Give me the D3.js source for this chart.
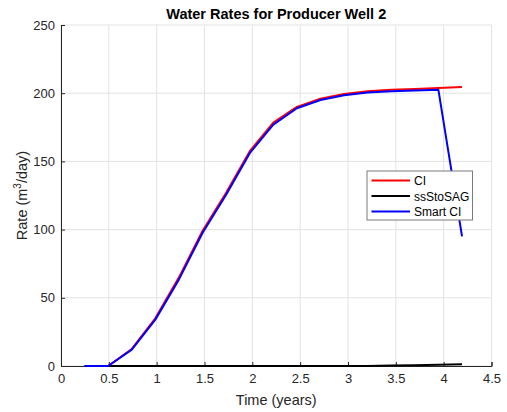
<!DOCTYPE html>
<html>
<head>
<meta charset="utf-8">
<script src="https://cdn.jsdelivr.net/npm/d3@7"></script>
<style>
body { margin: 0; background: #fff; }
text { font-family: "Liberation Sans", Arial, sans-serif; }
</style>
</head>
<body>
<div id="chart"></div>
<script>
// time steps (years), 90-day reports
var times = [0.247, 0.493, 0.740, 0.986, 1.233, 1.479, 1.726, 1.973, 2.219,
             2.466, 2.712, 2.959, 3.205, 3.452, 3.699, 3.945, 4.192];
var ci       = [0, 0, 12.5, 35, 65, 99, 127, 157.5, 178.5, 190, 196, 199.5, 201.5, 202.5, 203, 203.8, 204.5];
var ssStoSAG = [0, 0, 0, 0, 0, 0, 0, 0, 0, 0, 0, 0, 0, 0.3, 0.6, 1.0, 1.2];
var smartCI  = [0, 0, 12, 34, 63.5, 97.5, 125.5, 156, 177, 189, 195, 198.5, 200.5, 201.5, 202, 202.5, 95];
var xTicks = [0, 0.5, 1, 1.5, 2, 2.5, 3, 3.5, 4, 4.5];
var yTicks = [0, 50, 100, 150, 200, 250];
var seriesNames = ["CI", "ssStoSAG", "Smart CI"];
var seriesColors = ["#ff0000", "#000000", "#0000ff"];

function drawChart() {
    var width = 507, height = 412;
    var margin = {left: 61, right: 15.5, top: 25, bottom: 46};

    var svg = d3.select("#chart").append("svg")
        .attr("width", width)
        .attr("height", height);

    var xScale = d3.scaleLinear().domain([0, 4.5])
        .range([margin.left, width - margin.right]);
    var yScale = d3.scaleLinear().domain([0, 250])
        .range([height - margin.bottom, margin.top]);

    // grid
    svg.append("g").selectAll("line.gx").data(xTicks).enter().append("line")
        .attr("x1", function (d) { return xScale(d); })
        .attr("x2", function (d) { return xScale(d); })
        .attr("y1", yScale(0)).attr("y2", yScale(250))
        .attr("stroke", "#e3e3e3").attr("stroke-width", 1);
    svg.append("g").selectAll("line.gy").data(yTicks).enter().append("line")
        .attr("y1", function (d) { return yScale(d); })
        .attr("y2", function (d) { return yScale(d); })
        .attr("x1", xScale(0)).attr("x2", xScale(4.5))
        .attr("stroke", "#e3e3e3").attr("stroke-width", 1);

    // axes
    var xAxis = d3.axisBottom(xScale).tickValues(xTicks).tickSize(-4)
        .tickFormat(function (d) { return d3.format("")(d); });
    var gx = svg.append("g")
        .attr("transform", "translate(0," + yScale(0) + ")")
        .call(xAxis);
    gx.selectAll("text").attr("dy", "1.05em").attr("font-size", "13px").attr("fill", "#262626");

    var yAxis = d3.axisLeft(yScale).tickValues(yTicks).tickSize(-4);
    var gy = svg.append("g")
        .attr("transform", "translate(" + xScale(0) + ",0)")
        .call(yAxis);
    gy.selectAll("text").attr("x", -6).attr("font-size", "13px").attr("fill", "#262626");

    [gx, gy].forEach(function (g) {
        g.select(".domain").attr("stroke", "#262626");
        g.selectAll(".tick line").attr("stroke", "#262626");
        g.selectAll("text").attr("font-family", "Liberation Sans, Arial, sans-serif");
    });

    // lines
    var seriesData = [ci, ssStoSAG, smartCI];
    var line = d3.line()
        .x(function (d, i) { return xScale(times[i]); })
        .y(function (d) { return yScale(d); });

    seriesData.forEach(function (s, k) {
        svg.append("path")
            .datum(s)
            .attr("d", line)
            .attr("fill", "none")
            .attr("stroke", seriesColors[k])
            .attr("stroke-width", 2)
            .attr("stroke-linejoin", "round");
    });

    // title
    svg.append("text")
        .attr("x", (xScale(0) + xScale(4.5)) / 2)
        .attr("y", 19)
        .attr("text-anchor", "middle")
        .attr("font-size", "14.5px")
        .attr("font-weight", "bold")
        .attr("fill", "#000")
        .text("Water Rates for Producer Well 2");

    // axis labels
    svg.append("text")
        .attr("x", (xScale(0) + xScale(4.5)) / 2)
        .attr("y", 405)
        .attr("text-anchor", "middle")
        .attr("font-size", "14.5px")
        .attr("fill", "#262626")
        .text("Time (years)");

    var yl = svg.append("text")
        .attr("transform", "translate(27," + ((yScale(0) + yScale(250)) / 2) + ") rotate(-90)")
        .attr("text-anchor", "middle")
        .attr("font-size", "14.5px")
        .attr("fill", "#262626");
    yl.append("tspan").text("Rate (m");
    yl.append("tspan").attr("dy", -6).attr("font-size", "10px").text("3");
    yl.append("tspan").attr("dy", 6).text("/day)");

    // legend
    var lg = svg.append("g").attr("transform", "translate(367,171)");
    lg.append("rect")
        .attr("width", 105.5).attr("height", 49)
        .attr("fill", "#fff").attr("stroke", "#7a7a7a").attr("stroke-width", 1);
    seriesNames.forEach(function (name, k) {
        var yy = 9.5 + k * 15.5;
        lg.append("line")
            .attr("x1", 4.5).attr("x2", 43)
            .attr("y1", yy).attr("y2", yy)
            .attr("stroke", seriesColors[k]).attr("stroke-width", 2);
        lg.append("text")
            .attr("x", 47).attr("y", yy + 4.5)
            .attr("font-size", "12px")
            .attr("fill", "#000")
            .text(name);
    });
}

drawChart();
</script>
</body>
</html>
